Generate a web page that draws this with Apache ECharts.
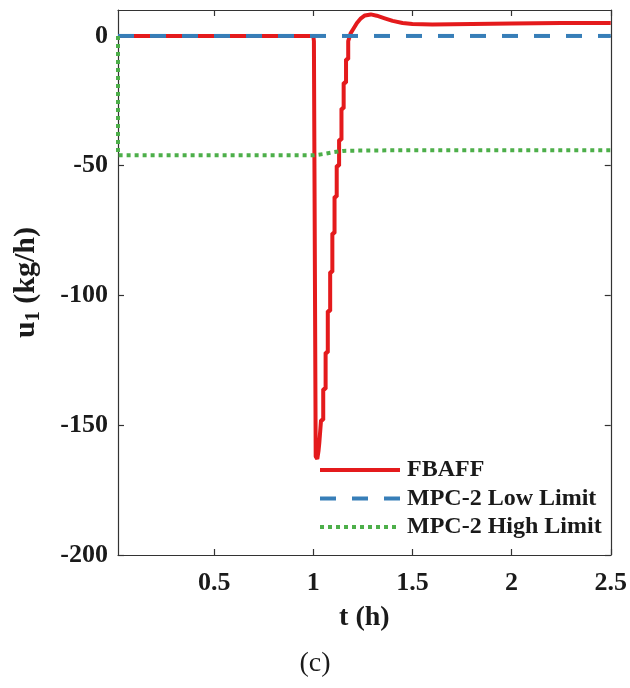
<!DOCTYPE html>
<html>
<head>
<meta charset="utf-8">
<script src="https://cdn.jsdelivr.net/npm/echarts@6/dist/echarts.min.js"></script>
<style>html,body{margin:0;padding:0;background:#fff}#c{width:630px;height:688px}</style>
</head>
<body>
<div id="c"></div>
<script>
// ---- data (t in hours, u1 in kg/h) ----
var xTicks = [0.5, 1, 1.5, 2, 2.5];
var yTicks = [-200, -150, -100, -50, 0];
var tMin = 0.015, tMax = 2.5;

var fbT = [0.015, 1.000, 1.003, 1.010, 1.012, 1.020, 1.026, 1.030, 1.039, 1.039, 1.050, 1.050, 1.062, 1.062, 1.073, 1.073, 1.085, 1.085, 1.096, 1.096, 1.107, 1.107, 1.118, 1.118, 1.130, 1.130, 1.142, 1.142, 1.153, 1.153, 1.165, 1.165, 1.176, 1.176, 1.188, 1.20, 1.22, 1.24, 1.26, 1.29, 1.32, 1.36, 1.40, 1.45, 1.50, 1.60, 1.80, 2.00, 2.25, 2.50];
var fbU = [0, 0, -2, -2, -162, -163, -160, -157, -157, -148, -148, -136, -136, -122, -122, -106, -106, -91, -91, -76, -76, -62, -62, -50, -50, -40, -40, -28, -28, -18, -18, -9, -9, -2, 1, 2.5, 5, 6.8, 7.9, 8.3, 7.8, 6.8, 5.8, 5.0, 4.6, 4.4, 4.6, 4.8, 5.0, 5.0];

var lowT = [0.015, 2.5];
var lowU = [0, 0];

var highT = [0.015, 0.015, 1.00, 1.05, 1.10, 1.15, 1.20, 1.50, 2.50];
var highU = [0, -46, -46, -45.5, -44.8, -44.3, -44.2, -44.0, -44.0];

function pairs(t, u) { return t.map(function (v, i) { return [v, u[i]]; }); }

var FONT = 'Liberation Serif';
var ink = '#1a1a1a';
var axisCol = '#333333';

var chart = echarts.init(document.getElementById('c'), null, {renderer: 'canvas'});
chart.setOption({
  animation: false,
  backgroundColor: '#ffffff',
  grid: {left: 118, right: 19, top: 10, bottom: 133, containLabel: false},
  legend: {
    orient: 'vertical', left: 313, top: 453,
    itemWidth: 80, itemHeight: 16, itemGap: 4.5,
    itemStyle: {opacity: 0},
    textStyle: {fontFamily: FONT, fontWeight: 'bold', fontSize: 24, color: ink, padding: [0, 0, 0, 2]},
    lineStyle: {width: 4},
    data: ['FBAFF', 'MPC-2 Low Limit', 'MPC-2 High Limit']
  },
  xAxis: [{
    type: 'value', min: tMin, max: tMax, position: 'bottom',
    name: 't (h)', nameLocation: 'middle', nameGap: 49,
    nameTextStyle: {fontFamily: FONT, fontWeight: 'bold', fontSize: 28, color: ink},
    axisLine: {show: true, onZero: false, lineStyle: {color: axisCol, width: 1.2}},
    axisTick: {show: true, inside: true, length: 6, customValues: xTicks, lineStyle: {color: axisCol, width: 1.2}},
    axisLabel: {show: true, customValues: xTicks, margin: 15, fontFamily: FONT, fontWeight: 'bold', fontSize: 26, color: ink},
    splitLine: {show: false}
  }, {
    type: 'value', min: tMin, max: tMax, position: 'top',
    axisLine: {show: true, onZero: false, lineStyle: {color: axisCol, width: 1.2}},
    axisTick: {show: true, inside: true, length: 6, customValues: xTicks, lineStyle: {color: axisCol, width: 1.2}},
    axisLabel: {show: false}, splitLine: {show: false}
  }],
  yAxis: [{
    type: 'value', min: -200, max: 10, position: 'left',
    name: '{u|u}{s|1}{u| (kg/h)}', nameLocation: 'middle', nameGap: 74, nameRotate: 90,
    nameTextStyle: {
      fontFamily: FONT, fontWeight: 'bold', fontSize: 30, color: ink,
      rich: {
        u: {fontFamily: FONT, fontWeight: 'bold', fontSize: 30, color: ink},
        s: {fontFamily: FONT, fontWeight: 'bold', fontSize: 20, color: ink, verticalAlign: 'bottom', padding: [16, 0, 0, 0]}
      }
    },
    axisLine: {show: true, onZero: false, lineStyle: {color: axisCol, width: 1.2}},
    axisTick: {show: true, inside: true, length: 6, customValues: yTicks, lineStyle: {color: axisCol, width: 1.2}},
    axisLabel: {show: true, customValues: yTicks, margin: 10, fontFamily: FONT, fontWeight: 'bold', fontSize: 26, color: ink},
    splitLine: {show: false}
  }, {
    type: 'value', min: -200, max: 10, position: 'right',
    axisLine: {show: true, onZero: false, lineStyle: {color: axisCol, width: 1.2}},
    axisTick: {show: true, inside: true, length: 6, customValues: yTicks, lineStyle: {color: axisCol, width: 1.2}},
    axisLabel: {show: false}, splitLine: {show: false}
  }],
  series: [{
    name: 'FBAFF', type: 'line', xAxisIndex: 0, yAxisIndex: 0,
    data: pairs(fbT, fbU), showSymbol: false, symbol: 'none',
    lineStyle: {color: '#e41a1c', width: 4}, itemStyle: {color: '#e41a1c'}, z: 2
  }, {
    name: 'MPC-2 Low Limit', type: 'line', xAxisIndex: 0, yAxisIndex: 0,
    data: pairs(lowT, lowU), showSymbol: false, symbol: 'none',
    lineStyle: {color: '#377eb8', width: 4, type: [16, 16]}, itemStyle: {color: '#377eb8'}, z: 3
  }, {
    name: 'MPC-2 High Limit', type: 'line', xAxisIndex: 0, yAxisIndex: 0,
    data: pairs(highT, highU), showSymbol: false, symbol: 'none',
    lineStyle: {color: '#4daf4a', width: 4, type: [4, 4]}, itemStyle: {color: '#4daf4a'}, z: 4
  }],
  graphic: [{
    type: 'text', left: 'center', top: 650,
    style: {text: '(c)', fontFamily: FONT, fontSize: 28, fill: ink}
  }]
});
</script>
</body>
</html>
